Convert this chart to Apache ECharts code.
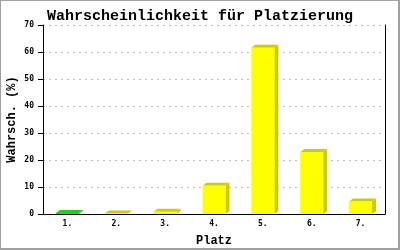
<!DOCTYPE html>
<html><head><meta charset="utf-8">
<script src="https://cdn.jsdelivr.net/npm/echarts@6/dist/echarts.min.js"></script>
<style>
html,body{margin:0;padding:0;background:#fff;}
#wrap{position:relative;width:400px;height:250px;}
#c{width:400px;height:250px;}
#frame{position:absolute;left:0;top:0;width:400px;height:250px;box-sizing:border-box;border-style:solid;border-color:#a0a0a0;border-width:1px 2px 2px 1px;pointer-events:none;}
</style></head>
<body><div id="wrap"><div id="c"></div><div id="frame"></div></div>
<script>
var categories = ['1.', '2.', '3.', '4.', '5.', '6.', '7.'];
var values = [0.4, 0.2, 0.8, 10.5, 61.6, 23.0, 4.6];
var yTicks = [0, 10, 20, 30, 40, 50, 60, 70];
var highlighted = [0];

var chart = echarts.init(document.getElementById('c'), null, {renderer: 'canvas'});
var mono = 'Liberation Mono';
var option = {
  animation: false,
  title: {
    text: 'Wahrscheinlichkeit für Platzierung', left: 'center', top: 4,
    textStyle: {fontFamily: mono, fontWeight: 'bold', fontSize: 15, color: '#000'}
  },
  grid: {left: 43, right: 15, top: 25, bottom: 36, containLabel: false, outerBoundsMode: 'none'},
  xAxis: {
    type: 'category', data: categories,
    name: 'Platz', nameLocation: 'middle', nameGap: 21, nameMoveOverlap: false,
    nameTextStyle: {fontFamily: mono, fontWeight: 'bold', fontSize: 12, color: '#000'},
    axisLine: {lineStyle: {color: '#000', width: 1}},
    axisTick: {show: false},
    axisLabel: {fontFamily: 'DejaVu Sans Mono', fontWeight: 'bold', fontSize: 8, color: '#000', margin: 6}
  },
  yAxis: [{
    type: 'value', min: yTicks[0], max: yTicks[yTicks.length - 1], interval: 10,
    name: 'Wahrsch. (%)', nameLocation: 'middle', nameGap: 25, nameMoveOverlap: false,
    nameTextStyle: {fontFamily: mono, fontWeight: 'bold', fontSize: 12, color: '#000'},
    axisLine: {show: true, lineStyle: {color: '#000', width: 1}},
    axisTick: {show: true, length: 5, lineStyle: {color: '#000'}},
    axisLabel: {fontFamily: 'DejaVu Sans Mono', fontWeight: 'bold', fontSize: 8, color: '#000', margin: 9},
    splitLine: {show: true, lineStyle: {color: '#bbbbbb', type: [2, 4]}}
  }, {
    type: 'value', position: 'right', min: 0, max: 70, interval: 10,
    axisLine: {show: true, lineStyle: {color: '#000'}},
    axisTick: {show: false}, axisLabel: {show: false}, splitLine: {show: false}
  }],
  series: [{
    type: 'custom',
    data: values.map(function (v, i) { return [i, v]; }),
    renderItem: function (params, api) {
      var i = api.value(0), v = api.value(1);
      var p0 = api.coord([i, 0]), p1 = api.coord([i, v]);
      var w = api.size([1, 0])[0] * 0.47;
      var l = p0[0] - w / 2, r = p0[0] + w / 2, top = p1[1], bot = p0[1];
      var dx = 4, dy = 3;
      var hl = highlighted.indexOf(i) >= 0;
      var front = hl ? '#00ee00' : '#ffff00';
      var dark = hl ? '#22cc22' : '#cccc00';
      return {
        type: 'group',
        children: [
          {type: 'polygon', shape: {points: [[r, bot], [r, top], [r + dx, top - dy], [r + dx, bot - dy]]}, style: {fill: dark}},
          {type: 'polygon', shape: {points: [[l, top], [r, top], [r + dx, top - dy], [l + dx, top - dy]]}, style: {fill: dark}},
          {type: 'rect', shape: {x: l, y: top, width: w, height: bot - top}, style: {fill: front}}
        ]
      };
    }
  }]
};
chart.setOption(option);
</script></body></html>
